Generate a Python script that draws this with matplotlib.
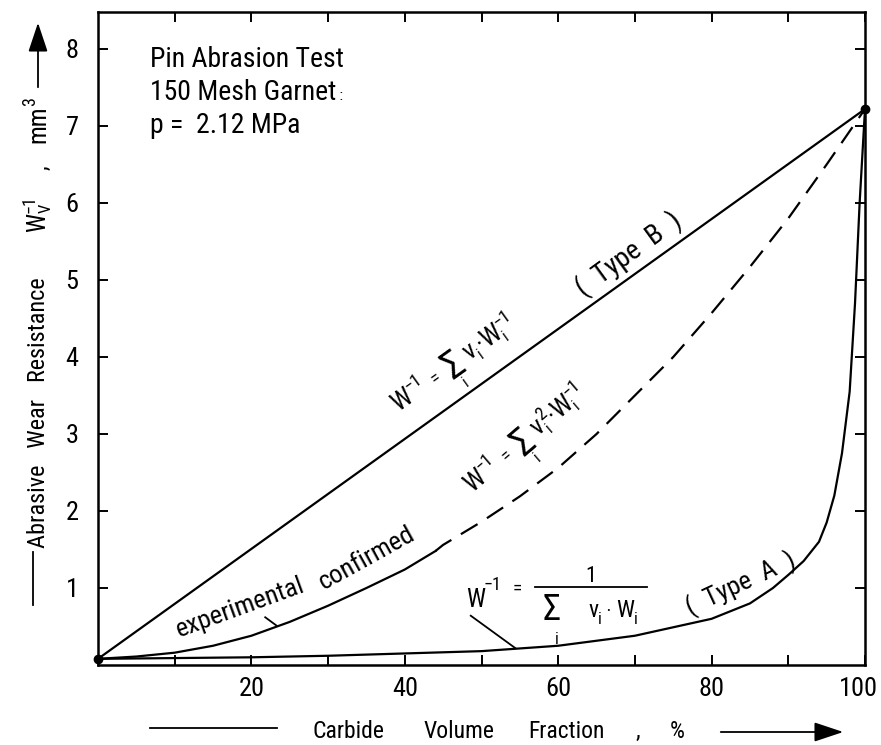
import math
import matplotlib
matplotlib.use("Agg")
import matplotlib.pyplot as plt
from matplotlib import font_manager as fm
from matplotlib.lines import Line2D
from matplotlib.patches import FancyArrowPatch
from matplotlib.transforms import ScaledTranslation

# ---------------- data ----------------
typeB_x = [0, 100]
typeB_y = [0.08, 7.22]

exp_x = [0, 5, 10, 15, 20, 25, 30, 35, 40, 44]
exp_y = [0.08, 0.11, 0.16, 0.25, 0.38, 0.56, 0.77, 1.0, 1.24, 1.48]

dash_x = [44, 45, 50, 55, 60, 65, 70, 75, 80, 85, 90, 95, 100]
dash_y = [1.48, 1.56, 1.86, 2.19, 2.56, 3.0, 3.5, 4.0, 4.57, 5.17, 5.8, 6.5, 7.22]

typeA_x = [0, 10, 20, 30, 40, 50, 60, 70, 80, 85, 88, 90, 92, 94, 95, 96, 97, 98, 98.7, 99.3, 100]
typeA_y = [0.08, 0.09, 0.10, 0.12, 0.15, 0.18, 0.25, 0.38, 0.6, 0.8, 1.0, 1.17, 1.35, 1.6, 1.85,
           2.2, 2.75, 3.55, 4.7, 6.0, 7.22]

end_x = [0, 100]
end_y = [0.08, 7.22]

xtick_major = [20, 40, 60, 80, 100]
xtick_minor = [10, 30, 50, 70, 90]
ytick_major = [1, 2, 3, 4, 5, 6, 7, 8]

header_lines = ["Pin Abrasion Test", "150 Mesh Garnet", "p =  2.12 MPa"]

# ---------------- fonts ----------------
names = {f.name for f in fm.fontManager.ttflist}
FONT = "DejaVu Sans"
STRETCH = "normal"
for cand in ["Roboto Condensed", "Liberation Sans Narrow", "Open Sans Condensed"]:
    if cand in names:
        FONT = cand
        break
else:
    STRETCH = "condensed"

plt.rcParams["font.family"] = [FONT, "DejaVu Sans"]
plt.rcParams["font.stretch"] = STRETCH
plt.rcParams["lines.scale_dashes"] = False

W, H = 881, 745
fig = plt.figure(figsize=(W / 100, H / 100), dpi=100)
L, R, T, B = 98, 865, 12, 665
ax = fig.add_axes([L / W, 1 - B / H, (R - L) / W, (B - T) / H])
ax.set_xlim(0, 100)
ax.set_ylim(0, 8.48)

lw = 1.6
ax.plot(typeB_x, typeB_y, color="black", lw=lw)
ax.plot(exp_x, exp_y, color="black", lw=lw)
ax.plot(dash_x, dash_y, color="black", lw=lw, dashes=(14, 8))
ax.plot(typeA_x, typeA_y, color="black", lw=lw)
ax.plot(end_x, end_y, "o", color="black", ms=6, clip_on=False, zorder=5)

for s in ax.spines.values():
    s.set_linewidth(1.8)

ax.set_xticks(xtick_major)
ax.set_xticks(xtick_minor, minor=True)
ax.set_yticks(ytick_major)
ax.set_xticklabels([str(v) for v in xtick_major])
ax.set_yticklabels([str(v) for v in ytick_major])
ax.tick_params(which="both", direction="in", top=True, right=True, length=7, width=1.4,
               labelsize=19)
ax.tick_params(axis="x", pad=9)
ax.tick_params(axis="y", pad=14)
last = ax.xaxis.get_major_ticks()[-1].label1
last.set_transform(last.get_transform() + ScaledTranslation(-5 / 72, 0, fig.dpi_scale_trans))

renderer = fig.canvas.get_renderer()


def twidth(s, fs):
    t = fig.text(0, 0, s, fontsize=fs)
    w = t.get_window_extent(renderer).width
    t.remove()
    return w


def put(px, py, s, fs, rot=0, ha="left"):
    return fig.text(px / W, 1 - py / H, s, fontsize=fs, rotation=rot, rotation_mode="anchor",
                    ha=ha, va="baseline")


def run(px0, py0, ang, pieces):
    """Lay text pieces along a (possibly rotated) baseline; coords in image pixels."""
    a = math.radians(ang)
    dx_dir, dy_dir = math.cos(a), -math.sin(a)
    ux, uy = -math.sin(a), -math.cos(a)
    cur = 0.0
    prev_x, prev_w = 0.0, 0.0
    for p in pieces:
        s, fs = p[0], p[1]
        dy = p[2] if len(p) > 2 else 0
        mode = p[3] if len(p) > 3 else "adv"
        dx = p[4] if len(p) > 4 else 0
        w = twidth(s, fs)
        if mode == "under":
            x = prev_x + (prev_w - w) / 2 + dx
        elif mode == "stack":
            x = prev_x + dx
            cur = max(cur, x + w)
        else:
            x = cur + dx
            cur = x + w
        if mode != "under":
            prev_x, prev_w = x, w
        px = px0 + x * dx_dir + dy * ux
        py = py0 + x * dy_dir + dy * uy
        put(px, py, s, fs, rot=ang)


# header
put(150, 67, header_lines[0], 20)
run(150, 100, 0, [(header_lines[1], 20), (" :", 11)])
put(150, 133, header_lines[2], 20)

# Type B label
run(398, 412, 35.6, [
    ("W", 19), ("\u22121", 13, 10), ("  =  ", 13), ("\u03a3", 27, -6), ("i", 12, -20, "under"),
    (" v", 19), ("i", 12, -6), ("\u00b7", 19), ("W", 19), ("i", 12, -6), ("\u22121", 13, 10, "stack"),
])
run(583, 297, 36, [("(  Type  B  )", 20)])

# dashed label
run(472, 493, 40.5, [
    ("W", 19), ("\u22121", 13, 10), ("  =  ", 13), ("\u03a3", 27, -6), ("i", 12, -20, "under"),
    (" v", 19), ("i", 12, -6), ("2", 13, 10, "stack"), ("\u00b7", 19), ("W", 19), ("i", 12, -6),
    ("\u22121", 13, 10, "stack"),
])

# experimental confirmed
run(179, 637, 20, [("experimental", 19)])
run(324, 590, 29, [("confirmed", 19)])
ax.plot([21.8, 23.3], [0.62, 0.51], color="black", lw=1.3)

# Type A formula (built from pieces)
put(466, 607, "W", 18)
put(484, 590, "\u22121", 13)
put(517, 594, "=", 14, ha="center")
fig.add_artist(Line2D([535 / W, 647 / W], [1 - 587 / H, 1 - 587 / H], color="black", lw=1.3))
put(591, 582, "1", 16, ha="center")
put(543, 620, "\u03a3", 26)
put(557, 644, "i", 12, ha="center")
run(588, 617, 0, [("v", 17), ("i", 12, -7), (" \u00b7 ", 14), ("W", 17), ("i", 12, -7)])
ax.plot([48.6, 54.4], [0.64, 0.22], color="black", lw=1.3)

run(690, 616, 25, [("(  Type  A  )", 19)])

# x axis label: line, words, arrow
fig.add_artist(Line2D([150 / W, 277 / W], [1 - 728 / H, 1 - 728 / H], color="black", lw=1.3))
for word, xp in [("Carbide", 312), ("Volume", 423), ("Fraction", 528), (",", 636), ("%", 670)]:
    put(xp, 738, word, 17)
fig.add_artist(FancyArrowPatch(
    (718 / W, 1 - 732 / H), (846 / W, 1 - 732 / H), transform=fig.transFigure,
    arrowstyle="-|>,head_length=0.9,head_width=0.3", mutation_scale=20, color="black", lw=1.3))

# y axis label: line, words, arrow
fig.add_artist(Line2D([33 / W, 33 / W], [1 - 605 / H, 1 - 552 / H], color="black", lw=1.3))
run(45, 548, 90, [("Abrasive   Wear   Resistance", 17.5)])
run(45, 232, 90, [("W", 18), ("V", 12, -6), ("\u22121", 13, 10, "stack")])
put(48, 170, ",", 17, rot=90)
run(45, 143, 90, [("mm", 18), ("3", 13, 10)])
fig.add_artist(FancyArrowPatch(
    (38 / W, 1 - 90 / H), (38 / W, 1 - 20 / H), transform=fig.transFigure,
    arrowstyle="-|>,head_length=0.9,head_width=0.3", mutation_scale=20, color="black", lw=1.3))

fig.savefig("out.png", dpi=100)
